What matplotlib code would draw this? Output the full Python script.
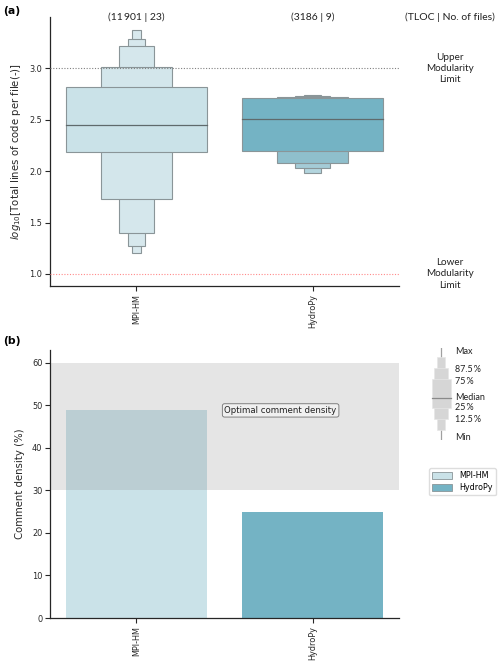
import matplotlib
matplotlib.use("Agg")
import matplotlib.pyplot as plt
from matplotlib.patches import Rectangle, Patch
import matplotlib.transforms as mtransforms

# ---------------- data ----------------
models = ["MPI-HM", "HydroPy"]
counts_labels = ["(11\u2009901 | 23)", "(3186 | 9)"]
header_label = "(TLOC | No. of files)"

# letter values (log10 lines of code per file), innermost box first
mpi_upper = [2.82, 3.01, 3.22, 3.28, 3.37]
mpi_lower = [2.19, 1.73, 1.40, 1.275, 1.20]
mpi_median = 2.45
hyd_upper = [2.714, 2.718, 2.726, 2.735]
hyd_lower = [2.196, 2.081, 2.032, 1.983]
hyd_median = 2.51

upper_limit = 3.0
lower_limit = 1.0

comment_density = [48.8, 24.9]
optimal_range = [30, 60]

# schematic legend (illustrative letter values)
ill_upper = [61, 72, 83]
ill_lower = [32, 21, 10]
ill_widths = [19, 14, 7.5]
ill_median = 42.3
ill_whisker = [0, 92]
ill_labels = ["Max", "87.5\u2009%", "75\u2009%", "Median", "25\u2009%", "12.5\u2009%", "Min"]
ill_label_pos = [89, 71, 58, 43, 32, 21, 2]

# ---------------- style ----------------
mpi_cols = ["#cae2e8", "#d3e6eb", "#d5e7ec", "#d7e8ed", "#d9e9ee"]
hyd_cols = ["#74b3c4", "#8fbfcc", "#a4cbd6", "#b3d5de"]
edge = "#8a9598"
spine_col = "#262626"
tick_fs = 5.9
anno_font = ["Lato", "DejaVu Sans"]

plt.rcParams["font.family"] = ["DejaVu Sans"]

fig = plt.figure(figsize=(5, 6.65), dpi=100)
W, H = 500, 665

def ax_rect(l, r, t, b):
    return [l / W, 1 - b / H, (r - l) / W, (b - t) / H]

ax1 = fig.add_axes(ax_rect(50, 399, 17, 286))
ax2 = fig.add_axes(ax_rect(50, 399, 350, 618))

for ax in (ax1, ax2):
    for s in ("top", "right"):
        ax.spines[s].set_visible(False)
    for s in ("left", "bottom"):
        ax.spines[s].set_color(spine_col)
        ax.spines[s].set_linewidth(0.9)
    ax.tick_params(axis="both", labelsize=tick_fs, length=3.5, width=0.8,
                   colors=spine_col, pad=2)
    ax.set_xlim(-0.49, 1.49)
    ax.set_xticks(range(len(models)))
    ax.set_xticklabels(models, rotation=90)

# ---------------- panel (a): boxen plot ----------------
def draw_boxen(ax, x, uppers, lowers, median, cols):
    n = len(uppers)
    for k in range(n - 1, -1, -1):
        w = 0.8 * 0.5 ** k
        r = Rectangle((x - w / 2, lowers[k]), w, uppers[k] - lowers[k],
                      facecolor=cols[k], edgecolor=edge, linewidth=0.8, zorder=2 + (n - k) * 0.01)
        ax.add_patch(r)
    ax.plot([x - 0.4, x + 0.4], [median, median], color="#5f6a6c", lw=0.9, zorder=3)

draw_boxen(ax1, 0, mpi_upper, mpi_lower, mpi_median, mpi_cols)
draw_boxen(ax1, 1, hyd_upper, hyd_lower, hyd_median, hyd_cols)

ax1.axhline(upper_limit, color="#808080", ls=(0, (1, 1.5)), lw=0.8, zorder=4)
ax1.axhline(lower_limit, color="#ff8a8a", ls=(0, (1, 1.5)), lw=0.8, zorder=4)
ax1.set_ylim(0.883, 3.497)
ax1.set_yticks([1.0, 1.5, 2.0, 2.5, 3.0])
ax1.set_ylabel(r"$log_{10}$[Total lines of code per file(-)]", fontsize=7.3,
               color=spine_col, labelpad=5)

trans = mtransforms.blended_transform_factory(ax1.transData, ax1.transAxes)
for i, lab in enumerate(counts_labels):
    ax1.text(i, 1.0, lab, transform=trans, ha="center", va="center",
             fontsize=7.5, family=anno_font, color="#222222", clip_on=False)
ax1.text(1.78, 1.0, header_label, transform=trans, ha="center", va="center",
         fontsize=7.5, family=anno_font, color="#222222", clip_on=False)
ax1.text(1.78, upper_limit, "Upper\nModularity\nLimit", ha="center", va="center",
         fontsize=7.1, family=anno_font, color="#222222", clip_on=False, linespacing=1.3)
ax1.text(1.78, lower_limit, "Lower\nModularity\nLimit", ha="center", va="center",
         fontsize=7.1, family=anno_font, color="#222222", clip_on=False, linespacing=1.3)

# ---------------- panel (b): bars ----------------
bar_cols = [mpi_cols[0], hyd_cols[0]]
ax2.bar(range(len(models)), comment_density, width=0.8, color=bar_cols, zorder=1)
ax2.axhspan(optimal_range[0], optimal_range[1], color="grey", alpha=0.2, lw=0, zorder=2)
ax2.set_ylim(0, 63)
ax2.set_yticks([0, 10, 20, 30, 40, 50, 60])
ax2.set_ylabel("Comment density (%)", fontsize=7.3, color=spine_col, labelpad=5)
ax2.text(0.5, 48.8, "Optimal comment density", ha="left", va="center", fontsize=6.2,
         color="#222222", zorder=5,
         bbox=dict(boxstyle="round,pad=0.25", facecolor="#f0f0f0", edgecolor="#707070", lw=0.6))

# ---------------- schematic legend ----------------
axl = fig.add_axes(ax_rect(430, 490, 348, 440))
axl.set_xlim(0, 60)
axl.set_ylim(0, 92)
axl.axis("off")
cx = 11
axl.plot([cx, cx], ill_whisker, color="#a0a0a0", lw=0.9, zorder=1)
for k in range(len(ill_upper) - 1, -1, -1):
    w = ill_widths[k]
    axl.add_patch(Rectangle((cx - w / 2, ill_lower[k]), w, ill_upper[k] - ill_lower[k],
                            facecolor="#d6d6d6", edgecolor="#e6e6e6", lw=0.5, zorder=2))
axl.plot([cx - ill_widths[0] / 2, cx + ill_widths[0] / 2], [ill_median, ill_median],
         color="#8a8a8a", lw=0.9, zorder=3)
for lab, yv in zip(ill_labels, ill_label_pos):
    axl.text(25, yv, lab, ha="left", va="center", fontsize=6.5, family=anno_font,
             color="#222222")

# ---------------- legend ----------------
handles = [Patch(facecolor=c, edgecolor="#8a9598", lw=0.6) for c in bar_cols]
fig.legend(handles, models, loc="upper left", bbox_to_anchor=(425 / W, 1 - 464 / H),
           fontsize=5.8, frameon=True, handlelength=2.5, handleheight=0.9,
           borderpad=0.4, labelspacing=0.35, handletextpad=0.8, framealpha=1,
           edgecolor="#dddddd", fancybox=True)

# ---------------- panel labels ----------------
fig.text(3 / W, 1 - 11 / H, "(a)", fontsize=7.8, fontweight="bold", va="center", ha="left")
fig.text(3 / W, 1 - 341 / H, "(b)", fontsize=7.8, fontweight="bold", va="center", ha="left")

fig.savefig("out.png", dpi=100)
